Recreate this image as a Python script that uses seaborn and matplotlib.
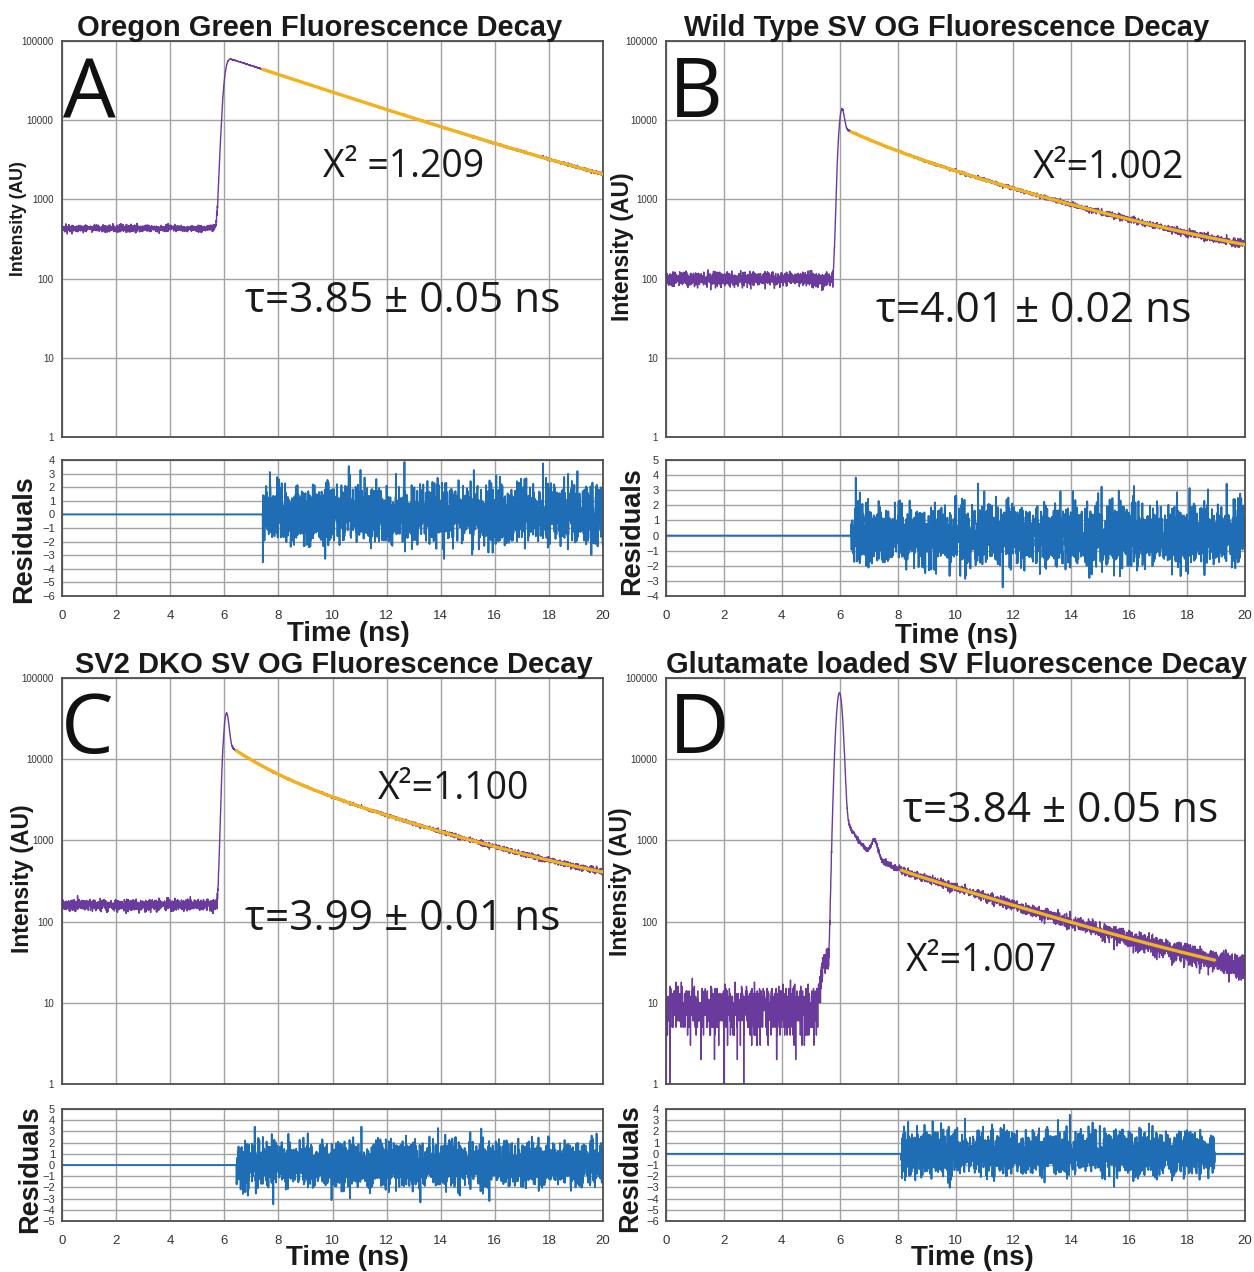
import math
import numpy as np
import pandas as pd
import matplotlib
matplotlib.use("Agg")
import matplotlib.pyplot as plt
from matplotlib.ticker import NullLocator
import seaborn as sns

# ---- panel descriptions -------------------------------------------------
panel_letters = ["A", "B", "C", "D"]
titles = [
    "Oregon Green Fluorescence Decay",
    "Wild Type SV OG Fluorescence Decay",
    "SV2 DKO SV OG Fluorescence Decay",
    "Glutamate loaded SV Fluorescence Decay",
]
tau_ns = [3.85, 4.01, 3.99, 3.84]          # fitted lifetime (ns)
tau_err = ["0.05", "0.02", "0.01", "0.05"]
chi2 = ["1.209", "1.002", "1.100", "1.007"]

background = [430, 100, 160, 9]            # pre-pulse counts
rise_center = [6.00, 5.95, 5.95, 5.95]     # excitation arrival (ns)
rise_width = [0.10, 0.06, 0.07, 0.10]
fit_start = [7.42, 6.40, 6.45, 8.13]       # fit window (ns)
fit_end = [20.0, 20.0, 20.0, 18.95]
amp_main = [43400, 5010, 7390, 411]        # main component at fit_start
amp_fast = [0, 2760, 7950, 2240]           # fast component at rise_center
tau_fast = [1.0, 1.4, 1.15, 0.4]

# scattered-excitation peaks: (time ns, height counts, width ns)
scatter_peaks = [
    [],
    [(6.08, 6000, 0.07)],
    [(6.08, 22000, 0.08)],
    [(5.99, 64000, 0.09), (7.20, 400, 0.10), (5.50, 25, 0.12)],
]

resid_ylim = [(-6, 4), (-4, 5), (-5, 5), (-6, 4)]
decade_ticks = [1, 10, 100, 1000, 10000, 100000]
decade_labels = ["1", "10", "100", "1000", "10000", "100000"]
time_ticks = list(range(0, 21, 2))

# ---- colours & fonts ----------------------------------------------------
PURPLE = "#6a3b9c"
ORANGE = "#f2b21c"
BLUE = "#1f6db4"
GRID = "#a3a3a3"
SPINE = "#4d4d4d"

sns.set_style("white")
plt.rcParams["font.family"] = ["Liberation Sans", "DejaVu Sans"]
BOLD = ["Liberation Sans", "DejaVu Sans"]
HUMAN = ["Open Sans", "DejaVu Sans"]

W, H = 1254, 1272
fig = plt.figure(figsize=(W / 100, H / 100), dpi=100)
fig.patch.set_facecolor("white")


def add_ax(left, top, right, bottom):
    return fig.add_axes([left / W, 1 - bottom / H, (right - left) / W, (bottom - top) / H])


def ftext(x, y, s, **kw):
    return fig.text(x / W, 1 - y / H, s, **kw)


def style_axes(ax):
    ax.grid(True, color=GRID, linewidth=1.0)
    ax.set_axisbelow(True)
    for sp in ax.spines.values():
        sp.set_color(SPINE)
        sp.set_linewidth(1.3)
        sp.set_visible(True)
    ax.tick_params(direction="out", length=4, width=1.0, color=SPINE,
                   labelcolor="#333333", pad=2)
    ax.set_xlim(0, 20)
    ax.set_xticks(time_ticks)
    ax.set_xlabel("")
    ax.set_ylabel("")


# pixel boxes: (left, top, right, bottom) for decay and residual axes
main_boxes = [(62, 41, 603, 437), (666, 41, 1245, 437),
              (62, 678, 603, 1084), (666, 678, 1245, 1084)]
resid_boxes = [(62, 460, 603, 596), (666, 460, 1245, 596),
               (62, 1109, 603, 1221), (666, 1109, 1245, 1221)]

# text placements (pixels)
title_pos = [(320, 36), (947, 36), (334, 673), (956, 673)]
letter_pos = [(63, 118), (669, 117), (61, 753), (669, 753)]
chi_pos = [(323, 177), (1033, 178), (378, 799), (906, 971)]
tau_pos = [(245, 312), (876, 322), (245, 930), (903, 822)]
ylab_pos = [(19, 219, 12.7), (622, 247, 16.5), (23, 879, 16.5), (621, 882, 16.5)]
res_lab_pos = [(24, 539), (632, 531), (30, 1169), (630, 1168)]
time_lab_pos = [(348, 634), (956, 636), (347, 1258), (972, 1258)]
chi_space = [" ", "", "", ""]

t = np.round(np.arange(0, 20.0001, 0.005), 4)
erf = np.frompyfunc(math.erf, 1, 1)
rng = np.random.default_rng(7)   # photon-counting scatter, seeded for a repeatable figure

for i in range(4):
    gate = 0.5 * (1 + erf((t - rise_center[i]) / (math.sqrt(2) * rise_width[i])).astype(float))
    decay = (amp_main[i] * np.exp(-(t - fit_start[i]) / tau_ns[i])
             + amp_fast[i] * np.exp(-(t - rise_center[i]) / tau_fast[i]))
    model = background[i] + gate * decay
    for (pt, ph, pw) in scatter_peaks[i]:
        model = model + ph * np.exp(-((t - pt) ** 2) / (2 * pw ** 2))
    counts = np.clip(rng.poisson(model), 1, None).astype(float)

    in_fit = (t >= fit_start[i]) & (t <= fit_end[i])
    fit_t = t[in_fit]
    fit_y = model[in_fit]
    resid = np.zeros_like(t)
    resid[in_fit] = (counts[in_fit] - fit_y) / np.sqrt(fit_y)

    trace = pd.DataFrame({"time": t, "counts": counts, "residual": resid})
    fit_df = pd.DataFrame({"time": fit_t, "fit": fit_y})

    # ---- decay panel ----
    ax = add_ax(*main_boxes[i])
    ax.set_yscale("log")
    ax.set_ylim(1, 100000)
    sns.lineplot(data=trace, x="time", y="counts", ax=ax, color=PURPLE,
                 linewidth=1.0, estimator=None, sort=False)
    sns.lineplot(data=fit_df, x="time", y="fit", ax=ax, color=ORANGE,
                 linewidth=2.4, estimator=None, sort=False, zorder=3)
    style_axes(ax)
    ax.set_yticks(decade_ticks)
    ax.set_yticklabels(decade_labels)
    ax.yaxis.set_minor_locator(NullLocator())
    ax.set_xticklabels([])
    ax.tick_params(axis="y", labelsize=7)

    # ---- residual panel ----
    rax = add_ax(*resid_boxes[i])
    sns.lineplot(data=trace, x="time", y="residual", ax=rax, color=BLUE,
                 linewidth=1.3, estimator=None, sort=False)
    style_axes(rax)
    lo, hi = resid_ylim[i]
    rax.set_ylim(lo, hi)
    rax.set_yticks(range(lo, hi + 1))
    rax.tick_params(axis="y", labelsize=8, length=3)
    rax.tick_params(axis="x", labelsize=9.5, pad=6)

    # ---- text ----
    ftext(*title_pos[i], titles[i], ha="center", va="baseline",
          fontsize=21, fontweight="bold", family=BOLD, color="#1a1a1a")
    ftext(*letter_pos[i], panel_letters[i], ha="left", va="baseline",
          fontsize=60, family=HUMAN, color="#111111")
    ftext(*chi_pos[i], "X\u00b2" + chi_space[i] + "=" + chi2[i], ha="left",
          va="baseline", fontsize=27, family=HUMAN, color="#1a1a1a")
    ftext(*tau_pos[i], "\u03c4=" + f"{tau_ns[i]:.2f}" + " \u00b1 " + tau_err[i] + " ns",
          ha="left", va="baseline", fontsize=30.5, family=HUMAN, color="#1a1a1a")
    yx, yy, ys = ylab_pos[i]
    ftext(yx, yy, "Intensity (AU)", ha="center", va="center", rotation=90,
          fontsize=ys, fontweight="bold", family=BOLD, color="#1a1a1a")
    ftext(*res_lab_pos[i], "Residuals", ha="center", va="center", rotation=90,
          fontsize=19.5, fontweight="bold", family=BOLD, color="#1a1a1a")
    ftext(*time_lab_pos[i], "Time (ns)", ha="center", va="center",
          fontsize=20, fontweight="bold", family=BOLD, color="#1a1a1a")

fig.savefig("out.png", dpi=100, facecolor="white")
